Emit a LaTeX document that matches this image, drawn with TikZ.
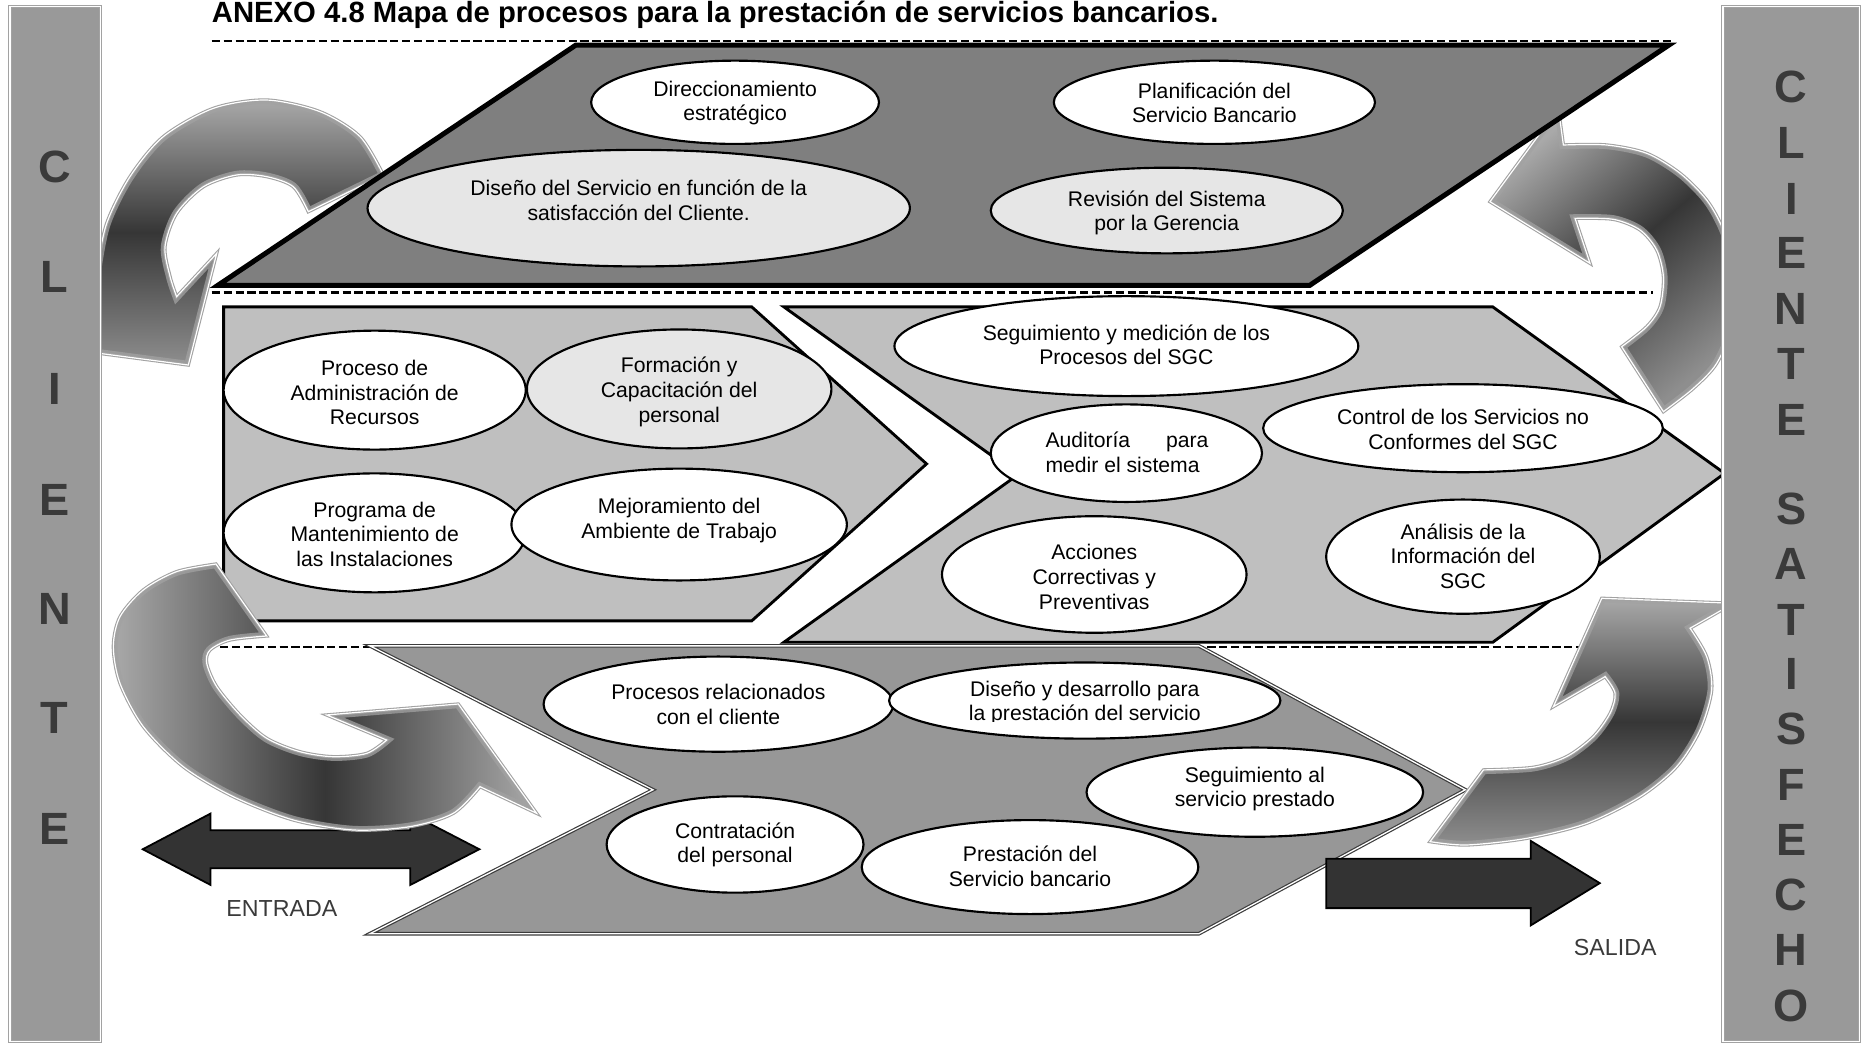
\documentclass[tikz,border=0pt]{standalone}
\usepackage{fontspec}
\setmainfont{Liberation Sans}
\usetikzlibrary{shapes.geometric}

\definecolor{planfill}{HTML}{7F7F7F}
\definecolor{supportfill}{HTML}{BFBFBF}
\definecolor{opsfill}{HTML}{979797}
\definecolor{barfill}{HTML}{999999}
\definecolor{softfill}{HTML}{E6E6E6}
\definecolor{inkgray}{HTML}{3A3A3A}
\definecolor{arrowfill}{HTML}{333333}
\definecolor{metallight}{HTML}{A9A9A9}
\definecolor{metalmid}{HTML}{8E8E8E}
\definecolor{metaldark}{HTML}{363636}
\definecolor{rimgray}{HTML}{A2A2A2}
\definecolor{opsline}{HTML}{3C3C3C}

% outlines of the four curved "client" arrows
\def\loopNW{plot[smooth] coordinates {(322.3,147.1) (302.7,114.9) (269,93.9) (224.2,84.1) (179.4,91.1) (137.3,114.9) (109.3,148.5) (89.7,187.8) (81.3,229.8) (79,262)} -- (45,292) -- (158.3,306.9) -- (182.2,213) -- plot[smooth] coordinates {(148.5,249.4) (143,232.6) (138.7,207.4) (148.5,179.4) (171,157) (199,147.1) (224.2,148.5) (246.6,157) (259.2,178)} -- cycle}
\def\loopNE{plot[smooth] coordinates {(1398.5,346.1) (1423.7,326.5) (1443.3,305.5) (1457.3,271.8) (1461.5,232.6) (1448.9,193.4) (1434.9,168.2) (1412.5,145.7) (1384.5,128.9) (1350.8,121.9) (1314.4,121.9)} -- (1310.2,91.1) -- (1252.7,169.6) -- (1336.8,221.4) -- plot[smooth] coordinates {(1324.2,183.6) (1356.4,184.4) (1378.9,193.4) (1392.9,210.2) (1398.5,232.6) (1395.7,257.8) (1384.5,274.6) (1363.4,291.5)} -- cycle}
\def\loopSW{plot[smooth] coordinates {(181.6,474.2) (148.5,480.6) (120.5,496) (100.9,518.5) (95.3,543.7) (100.9,574.5) (120.5,610.9) (154.1,644.6) (196.2,669.8) (246.6,689.4) (297.1,697.8) (344.7,695) (381.1,683.8) (403.6,661.4)} -- (451.2,683.8) -- (385.3,591.9) -- (274.6,601.1) -- plot[smooth] coordinates {(325.1,622.2) (308.3,633.4) (280.3,636.2) (252.2,632) (224.2,620.7) (201.8,601.1) (182.2,577.3) (173.8,557.7) (176.6,546.5) (193.4,538.1) (224.2,534.7)} -- cycle}
\def\loopSE{plot[smooth] coordinates {(1202.3,707.6) (1233.2,710.4) (1283.6,704.8) (1334,692.2) (1378.9,669.8) (1409.7,644.5) (1429.3,613.7) (1439.1,580.1) (1434.9,552.1) (1420.9,528.2)} -- (1457.4,507.2) -- (1346.7,503) -- (1306,594.1) -- plot[smooth] coordinates {(1349.5,568.9) (1357.9,582.9) (1353.7,599.7) (1339.6,619.3) (1317.2,636.1) (1289.2,645.1) (1247.2,647.3)} -- cycle}

% metallic band: gradient fill, soft inner bevel, light double rim
\newcommand\metalloop[2]{%
  \shade[#2] #1;
  \begin{scope}
    \clip #1;
    \draw[rimgray, line width=7pt, opacity=0.75] #1;
  \end{scope}
  \draw[rimgray, double=white, double distance=1pt, line width=0.9pt, line join=miter] #1;
}

\begin{document}
\begin{tikzpicture}[x=1pt, y=-1pt,
  proc/.style={ellipse, draw=black, line width=1.8pt, fill=white, inner sep=0pt},
  procsoft/.style={proc, fill=softfill},
  proctext/.style={align=center, inner sep=0pt, font=\fontsize{17.8}{20.7}\selectfont},
  divider/.style={draw=black, line width=2pt, dash pattern=on 7pt off 3pt},
  planshape/.style={draw=black, line width=4.2pt, fill=planfill, line join=miter},
  supportshape/.style={draw=black, line width=2.4pt, fill=supportfill, line join=miter},
  opsshape/.style={draw=opsline, line width=1pt, double=white, double distance=1.1pt, fill=opsfill, line join=miter},
  flowarrow/.style={draw=black, line width=1.5pt, fill=arrowfill, line join=miter},
  flowtext/.style={text=inkgray, inner sep=0pt, font=\fontsize{19.5}{23}\selectfont},
  sidebar/.style={draw=rimgray, line width=0.9pt, double=white, double distance=1.2pt, fill=barfill, inner sep=0pt, anchor=north west},
  barletter/.style={text=inkgray, inner sep=0pt, font=\bfseries\fontsize{38}{40}\selectfont}
]
\path[fill=white, use as bounding box] (0,0) rectangle (1568,878);

% ---- dashed dividers between the three levels
\coordinate (d1w) at (178,34.5);  \coordinate (d1e) at (1406,34.5);
\coordinate (d2w) at (178,246);   \coordinate (d2e) at (1390,246);
\coordinate (d3w) at (185,544);   \coordinate (d3e) at (1390,544);
\draw[divider] (d1w) -- (d1e);
\draw[divider] (d2w) -- (d2e);
\draw[divider] (d3w) -- (d3e);

% ---- support processes
\draw[supportshape] (188,258) -- (632,258) -- (779,390) -- (632,522) -- (188,522) -- cycle;
\draw[supportshape] (659,258) -- (1255,258) -- (1450,398) -- (1255,540) -- (659,540) -- (856,399) -- cycle;

\node[proc, minimum width=254pt, minimum height=100pt] (admin) at (315,328) {};
\node[proctext] (admintext) at (315,330) {Proceso de\\Administración de\\Recursos};
\node[procsoft, minimum width=256pt, minimum height=100pt] (training) at (571,327) {};
\node[proctext] (trainingtext) at (571,329.5) {Formación y\\Capacitación del\\personal};
\node[proc, minimum width=254pt, minimum height=100pt] (upkeep) at (315,448) {};
\node[proctext] (upkeeptext) at (315,449) {Programa de\\Mantenimiento de\\las Instalaciones};
\node[proc, minimum width=282pt, minimum height=94pt] (workenv) at (571,441) {};
\node[proctext] (workenvtext) at (571,437.5) {Mejoramiento del\\Ambiente de Trabajo};

\node[proc, minimum width=390pt, minimum height=84pt] (monitor) at (947,291) {};
\node[proctext] (monitortext) at (947,290) {Seguimiento y medición de los\\Procesos del SGC};
\node[proc, minimum width=228pt, minimum height=82pt] (audit) at (947,381) {};
\node[proctext, align=left] (audittext) at (947.5,380.5) {\makebox[137pt][s]{Auditoría para}\\medir el sistema};
\node[proc, minimum width=336pt, minimum height=74pt] (nonconf) at (1230,360) {};
\node[proctext] (nonconftext) at (1230,361) {Control de los Servicios no\\Conformes del SGC};
\node[proc, minimum width=256pt, minimum height=98pt] (capa) at (920,483) {};
\node[proctext] (capatext) at (920,485) {Acciones\\Correctivas y\\Preventivas};
\node[proc, minimum width=230pt, minimum height=96pt] (analysis) at (1230,468) {};
\node[proctext] (analysistext) at (1230,467.5) {Análisis de la\\Información del\\SGC};

% ---- operational (value) processes
\draw[opsshape] (311,543) -- (1008,543) -- (1232,664) -- (1008,785) -- (311,785) -- (549,664) -- cycle;

\node[proc, minimum width=294pt, minimum height=80pt] (clientproc) at (604,592) {};
\node[proctext] (clientproctext) at (604,592.5) {Procesos relacionados\\con el cliente};
\node[proc, minimum width=329pt, minimum height=64pt] (design) at (912,589) {};
\begin{scope}
  \clip (740,560) rectangle (1090,607);
  \node[proctext] (designtext) at (912,591) {Diseño y desarrollo para\\la prestación del servicio};
\end{scope}
\node[proc, minimum width=216pt, minimum height=81pt] (hiring) at (618,710) {};
\node[proctext] (hiringtext) at (618,710.5) {Contratación\\del personal};
\node[proc, minimum width=283pt, minimum height=79pt] (delivery) at (866,729) {};
\node[proctext] (deliverytext) at (866,728.5) {Prestación del\\Servicio bancario};
\node[proc, minimum width=283pt, minimum height=75pt] (followup) at (1055,666) {};
\node[proctext] (followuptext) at (1055,663.5) {Seguimiento al\\servicio prestado};

% ---- input / output arrows
\draw[flowarrow] (120,714) -- (177,684) -- (177,698) -- (345,698) -- (345,684) -- (403,714)
  -- (345,744) -- (345,730) -- (177,730) -- (177,744) -- cycle;
\node[flowtext] (entrada) at (237,764) {ENTRADA};
\draw[flowarrow] (1115,722) -- (1287,722) -- (1287,707) -- (1345,742.5) -- (1287,778)
  -- (1287,763.5) -- (1115,763.5) -- cycle;
\node[flowtext] (salida) at (1358,797) {SALIDA};

% ---- curved client arrows
\metalloop{\loopNW}{top color=metallight, bottom color=metalmid, middle color=metaldark}
\metalloop{\loopNE}{top color=metallight, bottom color=metalmid, middle color=metaldark, shading angle=40}
\metalloop{\loopSW}{left color=metallight, right color=metallight, middle color=metaldark}
\metalloop{\loopSE}{top color=metallight, bottom color=metalmid, middle color=metaldark}

% ---- strategic processes
\draw[planshape] (183,240) -- (484,38) -- (1403,38) -- (1101,240) -- cycle;
\node[proc, minimum width=242pt, minimum height=70pt] (strategy) at (618,86) {};
\node[proctext] (strategytext) at (618,86.5) {Direccionamiento\\estratégico};
\node[proc, minimum width=270pt, minimum height=70pt] (planning) at (1021,86) {};
\node[proctext] (planningtext) at (1021,86.5) {Planificación del\\Servicio Bancario};
\node[procsoft, minimum width=456pt, minimum height=98pt] (satdesign) at (537,175) {};
\node[proctext] (satdesigntext) at (537,168.5) {Diseño del Servicio en función de la\\satisfacción del Cliente.};
\node[procsoft, minimum width=296pt, minimum height=72pt] (review) at (981,177) {};
\node[proctext] (reviewtext) at (981,179) {Revisión del Sistema\\por la Gerencia};

% ---- client side bars
\node[sidebar, minimum width=76pt, minimum height=870pt] (clientbar) at (8,5) {};
\node[sidebar, minimum width=115pt, minimum height=870pt] (satisfiedbar) at (1448,5) {};
\foreach \ch/\yy [count=\k] in {C/140,L/233,I/327,E/420,N/512,T/604,E/697}
  \node[barletter] (inword\k) at (46,\yy) {\ch};
\foreach \ch/\yy [count=\k] in {C/73,L/120,I/167,E/213,N/260,T/306,E/353,S/428,A/474,T/521,I/567,S/613,F/660,E/706,C/752,H/799,O/846}
  \node[barletter] (outword\k) at (1506,\yy) {\ch};

% ---- heading
\node[anchor=base west, inner sep=0pt, font=\bfseries\fontsize{24.6}{29}\selectfont] (heading) at (178,19)
  {ANEXO 4.8 Mapa de procesos para la prestación de servicios bancarios.};
\end{tikzpicture}
\end{document}
